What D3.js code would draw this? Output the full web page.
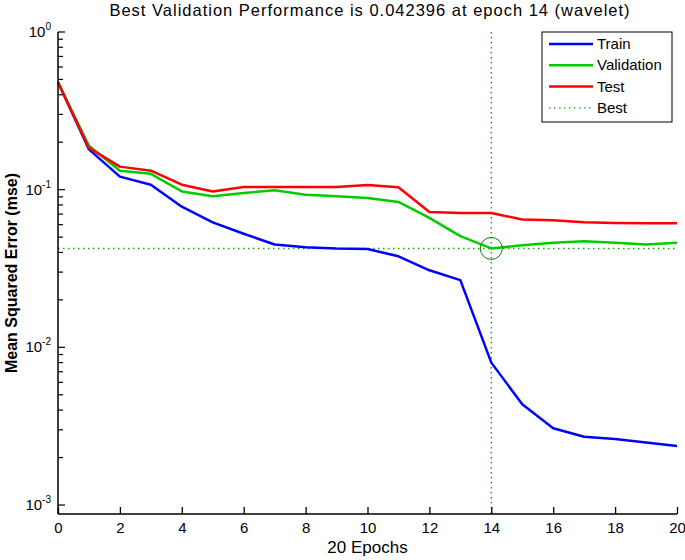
<!DOCTYPE html>
<html>
<head>
<meta charset="utf-8">
<script src="https://cdn.jsdelivr.net/npm/d3@7"></script>
<style>
  body { margin: 0; background: #fff; }
  svg { display: block; }
  text { font-family: "Liberation Sans Narrow", "Arial Narrow", "Liberation Sans", Arial, sans-serif; fill: #000; }
</style>
</head>
<body>
<svg id="chart" width="685" height="560"></svg>
<script>
// epochs 0..20
var epochs = d3.range(0, 21);

// mse per epoch
var train = [0.48, 0.18, 0.121, 0.1075, 0.078, 0.062, 0.0525, 0.0449, 0.0431, 0.0423, 0.042,
  0.0378, 0.0308, 0.0267, 0.0080, 0.00436, 0.00307, 0.00271, 0.00262, 0.00249, 0.00237];
var validation = [0.48, 0.19, 0.132, 0.126, 0.0975, 0.0907, 0.0953, 0.099, 0.093, 0.0907, 0.0886,
  0.0836, 0.0662, 0.0507, 0.042396, 0.0444, 0.046, 0.0471, 0.046, 0.0449, 0.046];
var test = [0.48, 0.184, 0.140, 0.132, 0.1075, 0.0975, 0.104, 0.104, 0.104, 0.104, 0.107,
  0.1035, 0.0722, 0.0712, 0.0712, 0.0646, 0.064, 0.0621, 0.0615, 0.0612, 0.0612];

var bestEpoch = 14,
  bestValue = 0.042396;

var xTicks = [0, 2, 4, 6, 8, 10, 12, 14, 16, 18, 20];
var yDecades = [0, -1, -2, -3];

var seriesNames = ["Train", "Validation", "Test", "Best"];

(function () {
  var svg = d3.select("#chart");

  var left = 58, right = 677, top = 32, bottom = 514;

  var x = d3.scaleLinear().domain([0, 20]).range([left, right]);
  // bottom of the axis sits a little under 10^-3
  var y = d3.scaleLog().domain([Math.pow(10, -3.057), 1]).range([bottom, top]);

  var colors = { Train: "#0000ff", Validation: "#00cc00", Test: "#ff0000", Best: "#00b400" };

  // title
  svg.append("text")
    .attr("x", 370)
    .attr("y", 16)
    .attr("text-anchor", "middle")
    .style("font-size", "16.5px")
    .style("letter-spacing", "1px")
    .text("Best Validation Performance is " + bestValue + " at epoch " + bestEpoch + " (wavelet)");

  // best lines (dotted)
  svg.append("line")
    .attr("x1", left).attr("x2", right)
    .attr("y1", y(bestValue)).attr("y2", y(bestValue))
    .attr("stroke", colors.Best).attr("stroke-width", 1.4)
    .attr("stroke-dasharray", "1.5,3.5");
  svg.append("line")
    .attr("x1", x(bestEpoch)).attr("x2", x(bestEpoch))
    .attr("y1", top).attr("y2", bottom)
    .attr("stroke", colors.Best).attr("stroke-width", 1.4)
    .attr("stroke-dasharray", "1.5,3.5");

  // curves
  var line = d3.line()
    .x((d, i) => x(epochs[i]))
    .y((d) => y(d));

  [["Train", train], ["Validation", validation], ["Test", test]].forEach(function (s) {
    svg.append("path")
      .datum(s[1])
      .attr("fill", "none")
      .attr("stroke", colors[s[0]])
      .attr("stroke-width", 2.5)
      .attr("stroke-linejoin", "round")
      .attr("d", line);
  });

  // best marker
  svg.append("circle")
    .attr("cx", x(bestEpoch))
    .attr("cy", y(bestValue))
    .attr("r", 11)
    .attr("fill", "none")
    .attr("stroke", "#008000")
    .attr("stroke-width", 1);

  // ===== axes ===== //
  var xAxis = svg.append("g")
    .attr("transform", "translate(0," + bottom + ")")
    .call(d3.axisBottom(x).tickValues(xTicks).tickSize(-7).tickPadding(5).tickFormat(d3.format("d")));
  xAxis.select(".domain").attr("d", "M" + left + ",0H" + right).attr("stroke-width", 1.5);
  xAxis.selectAll(".tick line").attr("stroke-width", 1.3);
  xAxis.selectAll(".tick text").attr("dy", "0.95em").style("font-size", "15px").attr("font-family", null);

  var yAxis = svg.append("g").attr("transform", "translate(" + left + ",0)");
  yAxis.append("path")
    .attr("d", "M0," + top + "V" + bottom)
    .attr("stroke", "#000").attr("stroke-width", 1.5);

  // minor ticks 2..9 for each decade
  var minor = [];
  yDecades.slice(0, 3).forEach(function (p) {
    for (var k = 2; k <= 9; k++) minor.push(k * Math.pow(10, p - 1));
  });
  yAxis.selectAll(".minor")
    .data(minor)
    .join("line")
    .attr("class", "minor")
    .attr("x1", 0).attr("x2", 5)
    .attr("y1", (d) => y(d)).attr("y2", (d) => y(d))
    .attr("stroke", "#000").attr("stroke-width", 1.2);

  var major = yAxis.selectAll(".major")
    .data(yDecades)
    .join("g")
    .attr("class", "major")
    .attr("transform", (p) => "translate(0," + y(Math.pow(10, p)) + ")");
  major.append("line")
    .attr("x1", 0).attr("x2", 7)
    .attr("stroke", "#000").attr("stroke-width", 1.2);
  var lab = major.append("text")
    .attr("x", -7)
    .attr("y", 5)
    .attr("text-anchor", "end")
    .style("font-size", "15px");
  lab.append("tspan").text("10");
  lab.append("tspan")
    .attr("dy", -7)
    .style("font-size", "10px")
    .text((p) => p);

  // axis titles
  svg.append("text")
    .attr("x", (left + right) / 2)
    .attr("y", 553)
    .attr("text-anchor", "middle")
    .style("font-size", "17px")
    .text(epochs.length - 1 + " Epochs");

  svg.append("text")
    .attr("transform", "translate(17," + (top + bottom) / 2 + ") rotate(-90)")
    .attr("text-anchor", "middle")
    .style("font-size", "16px")
    .style("font-weight", "bold")
    .text("Mean Squared Error (mse)");

  // ===== legend ===== //
  var legend = svg.append("g").attr("transform", "translate(542,32)");
  legend.append("rect")
    .attr("width", 130).attr("height", 90)
    .attr("fill", "#fff").attr("stroke", "#000").attr("stroke-width", 1);
  var items = legend.selectAll(".item")
    .data(seriesNames)
    .join("g")
    .attr("class", "item")
    .attr("transform", (d, i) => "translate(0," + (12 + i * 21.3) + ")");
  items.append("line")
    .attr("x1", 7).attr("x2", 51)
    .attr("stroke", (d) => colors[d])
    .attr("stroke-width", (d) => (d == "Best" ? 1.4 : 2.5))
    .attr("stroke-dasharray", (d) => (d == "Best" ? "1.5,3.5" : null));
  items.append("text")
    .attr("x", 55)
    .attr("y", 5)
    .style("font-size", "15px")
    .text((d) => d);
})();
</script>
</body>
</html>
